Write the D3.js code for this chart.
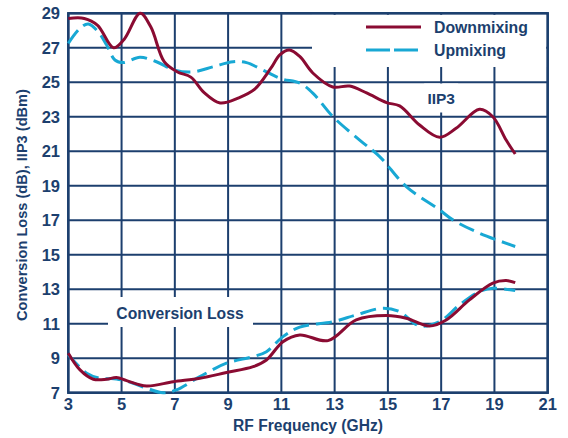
<!DOCTYPE html>
<html><head><meta charset="utf-8">
<script src="https://cdn.jsdelivr.net/npm/d3@7"></script>
<style>body{margin:0;background:#fff}svg{display:block}text{font-family:"Liberation Sans",Arial,sans-serif;font-weight:bold;fill:#1c3f6e}</style>
</head><body><div id="chart"></div>
<script>
const xTicks=[3,5,7,9,11,13,15,17,19,21];
const yTicks=[7,9,11,13,15,17,19,21,23,25,27,29];
const downIIP3=[[3,28.7],[3.6,28.7],[4.1,28.3],[4.7,27.0],[5.1,27.5],[5.7,29.0],[6.1,28.2],[6.6,26.2],[7.1,25.6],[7.6,25.3],[8.1,24.4],[8.7,23.8],[9.4,24.1],[10,24.6],[10.6,25.8],[10.95,26.6],[11.3,26.87],[11.69,26.5],[12.18,25.54],[12.93,24.73],[13.56,24.78],[14.2,24.38],[14.95,23.82],[15.44,23.63],[16.19,22.52],[16.94,21.81],[17.56,22.33],[18.44,23.43],[18.94,23.0],[19.44,21.65],[19.78,20.84]];
const upIIP3=[[3,27.26],[3.44,28.13],[3.75,28.38],[4.12,27.93],[4.44,27.16],[4.75,26.29],[5.06,26.14],[5.69,26.45],[6.31,26.19],[7,25.7],[7.69,25.6],[8.44,25.9],[9.19,26.19],[9.69,26.14],[10.44,25.6],[11.0,25.2],[11.69,24.95],[12.19,24.36],[12.94,23.0],[13.94,21.65],[14.69,20.69],[15.69,18.95],[16.94,17.6],[17.44,17.02],[18.44,16.25],[19.78,15.48]];
const downCL=[[3,9.29],[3.44,8.32],[3.94,7.78],[4.44,7.78],[4.81,7.88],[5.19,7.7],[5.94,7.39],[6.94,7.64],[7.94,7.84],[8.94,8.17],[9.94,8.51],[10.44,8.9],[11.06,9.96],[11.69,10.35],[12.75,10.02],[13.81,11.22],[14.94,11.47],[15.69,11.32],[16.56,10.87],[17.19,11.22],[18.06,12.38],[18.94,13.35],[19.44,13.5],[19.78,13.38]];
const upCL=[[3,9.2],[3.69,8.13],[4.19,7.84],[4.81,7.8],[5.44,7.55],[5.94,7.26],[6.56,7.0],[7.06,7.16],[7.94,7.93],[8.94,8.71],[9.94,9.09],[10.44,9.38],[11.06,10.25],[11.69,10.8],[12.94,11.12],[13.81,11.51],[14.81,11.9],[15.44,11.7],[16.19,10.87],[16.94,11.12],[17.69,12.09],[18.44,12.86],[18.94,13.06],[19.78,12.92]];
const seriesNames=["Downmixing","Upmixing"];
const colRed="#8a0b32", colCyan="#18a8d4", navy="#1c3f6e";

const W=568,H=438;
const svg=d3.select("#chart").append("svg").attr("width",W).attr("height",H);
const x=d3.scaleLinear().domain([3,21]).range([68.3,547.7]);
const y=d3.scaleLinear().domain([7,29]).range([392.7,13.3]);

// grid
const g=svg.append("g");
g.selectAll("line.h").data(yTicks).join("line")
 .attr("x1",x(3)).attr("x2",x(21)).attr("y1",d=>y(d)).attr("y2",d=>y(d))
 .attr("stroke",navy).attr("stroke-width",2);
g.selectAll("line.v").data(xTicks).join("line")
 .attr("y1",y(7)).attr("y2",y(29)).attr("x1",d=>x(d)).attr("x2",d=>x(d))
 .attr("stroke",navy).attr("stroke-width",2);

// white cutouts
svg.append("rect").attr("x",312).attr("y",y(29)+1.5).attr("width",x(21)-312-1.5).attr("height",67-y(29)-1.5).attr("fill","#fff");
svg.append("rect").attr("x",x(17)-17).attr("y",83.5).attr("width",34).attr("height",29).attr("fill","#fff");
svg.append("rect").attr("x",108).attr("y",297).attr("width",145).attr("height",30).attr("fill","#fff");

// frame
svg.append("rect").attr("x",x(3)).attr("y",y(29)).attr("width",x(21)-x(3)).attr("height",y(7)-y(29))
 .attr("fill","none").attr("stroke",navy).attr("stroke-width",2.5);

// axes labels
svg.selectAll("text.yt").data(yTicks).join("text")
 .attr("x",60).attr("y",d=>y(d)+6).attr("text-anchor","end").attr("font-size",16.5).text(d=>d);
svg.selectAll("text.xt").data(xTicks).join("text")
 .attr("x",d=>x(d)).attr("y",410).attr("text-anchor","middle").attr("font-size",16.5).text(d=>d);
svg.append("text").attr("x",308).attr("y",431).attr("text-anchor","middle").attr("font-size",15.6).text("RF Frequency (GHz)");
svg.append("text").attr("transform","translate(27,205) rotate(-90)").attr("text-anchor","middle").attr("font-size",14.6).text("Conversion Loss (dB), IIP3 (dBm)");

// annotations
svg.append("text").attr("x",x(17)).attr("y",104).attr("text-anchor","middle").attr("font-size",15.5).text("IIP3");
svg.append("text").attr("x",180).attr("y",318.5).attr("text-anchor","middle").attr("font-size",15.7).text("Conversion Loss");

// lines
const line=d3.line().x(d=>x(d[0])).y(d=>y(d[1])).curve(d3.curveCatmullRom.alpha(0.5));
[[upIIP3,colCyan,true],[upCL,colCyan,true],[downIIP3,colRed,false],[downCL,colRed,false]].forEach(([data,c,dash])=>{
  svg.append("path").attr("d",line(data)).attr("fill","none").attr("stroke",c).attr("stroke-width",3)
   .attr("stroke-dasharray",dash?"16,7":null).attr("stroke-linecap","butt");
});

// legend
const leg=svg.append("g");
leg.append("line").attr("x1",366).attr("x2",421).attr("y1",27).attr("y2",27).attr("stroke",colRed).attr("stroke-width",3);
leg.append("line").attr("x1",366).attr("x2",421).attr("y1",50).attr("y2",50).attr("stroke",colCyan).attr("stroke-width",3).attr("stroke-dasharray","24,4");
leg.append("text").attr("x",434).attr("y",32.5).attr("font-size",15.8).text(seriesNames[0]);
leg.append("text").attr("x",434).attr("y",55.5).attr("font-size",15.8).text(seriesNames[1]);
</script></body></html>
